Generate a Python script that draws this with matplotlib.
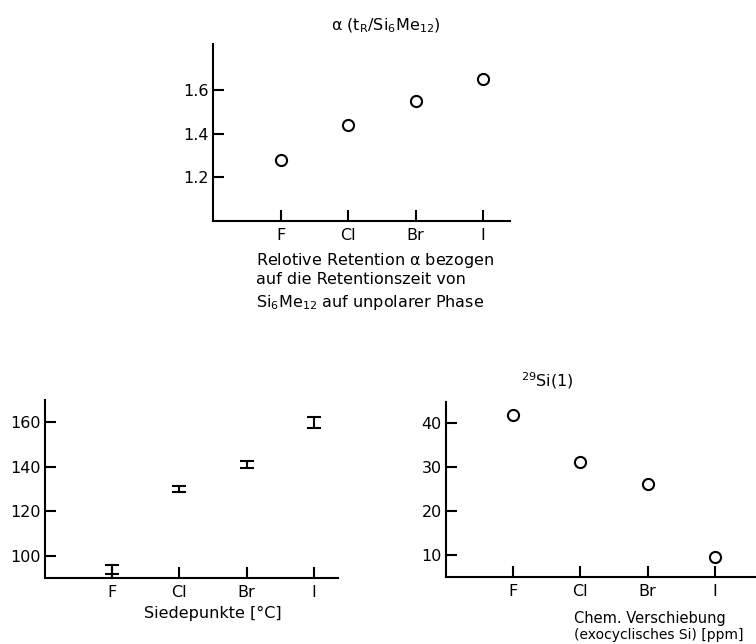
import matplotlib
matplotlib.use('Agg')
import matplotlib.pyplot as plt

plt.rcParams['font.family'] = ['DejaVu Sans']
plt.rcParams['mathtext.default'] = 'regular'
plt.rcParams['font.size'] = 11.5

halogens = ['F', 'Cl', 'Br', 'I']
pos = [1, 2, 3, 4]

# relative retention alpha (t_R / Si6Me12)
alpha = [1.28, 1.44, 1.55, 1.65]
# boiling points [degC] with uncertainty
bp = [94, 130, 141, 160]
bp_err = [2, 1.5, 1.5, 2.5]
# 29Si shift of exocyclic Si [ppm]
shift = [41.8, 31.2, 26.1, 9.6]

lw = 1.5


def style(ax, xlim, ylim, yticks, ylabels):
    for s in ['top', 'right']:
        ax.spines[s].set_visible(False)
    for s in ['left', 'bottom']:
        ax.spines[s].set_linewidth(lw)
    ax.set_xlim(*xlim)
    ax.set_ylim(*ylim)
    ax.set_xticks(pos)
    ax.set_xticklabels(halogens)
    ax.set_yticks(yticks)
    ax.set_yticklabels(ylabels)
    ax.tick_params(axis='both', direction='in', length=8, width=lw)
    ax.tick_params(axis='x', pad=5)
    ax.tick_params(axis='y', pad=3)


fig = plt.figure(figsize=(7.56, 6.44), dpi=100)

# top: relative retention
ax1 = fig.add_axes([213/756, 1 - 221/644, 297/756, 177/644])
ax1.plot(pos, alpha, 'o', ms=8, mfc='white', mec='black', mew=lw)
style(ax1, (0, 4.4), (1.0, 1.81), [1.2, 1.4, 1.6], ['1.2', '1.4', '1.6'])
fig.text(386/756, 1 - 26/644, r'$\alpha$ (t$_R$/Si$_6$Me$_{12}$)', ha='center', va='center')
fig.text(256/756, 1 - 260/644, 'Relotive Retention $\\alpha$ bezogen', ha='left', va='center')
fig.text(256/756, 1 - 280/644, 'auf die Retentionszeit von', ha='left', va='center')
fig.text(256/756, 1 - 302/644, 'Si$_6$Me$_{12}$ auf unpolarer Phase', ha='left', va='center')

# bottom left: boiling points
ax2 = fig.add_axes([45/756, 1 - 578/644, 293/756, 178/644])
ax2.errorbar(pos, bp, yerr=bp_err, fmt='none', ecolor='black', elinewidth=lw,
             capsize=5, capthick=lw)
style(ax2, (0, 4.36), (90, 170), [100, 120, 140, 160], ['100', '120', '140', '160'])
fig.text(213/756, 1 - 613/644, 'Siedepunkte [°C]', ha='center', va='center')

# bottom right: 29Si chemical shift
ax3 = fig.add_axes([446/756, 1 - 577/644, 309/756, 175/644])
ax3.plot(pos, shift, 'o', ms=8, mfc='white', mec='black', mew=lw, clip_on=False)
style(ax3, (0, 4.6), (5, 44.7), [10, 20, 30, 40], ['10', '20', '30', '40'])
fig.text(547/756, 1 - 381/644, '$^{29}$Si(1)', ha='center', va='center')
fig.text(574/756, 1 - 618/644, 'Chem. Verschiebung', ha='left', va='center', fontsize=10.5)
fig.text(574/756, 1 - 635/644, '(exocyclisches Si) [ppm]', ha='left', va='center', fontsize=10)

fig.savefig('out.png', dpi=100)
